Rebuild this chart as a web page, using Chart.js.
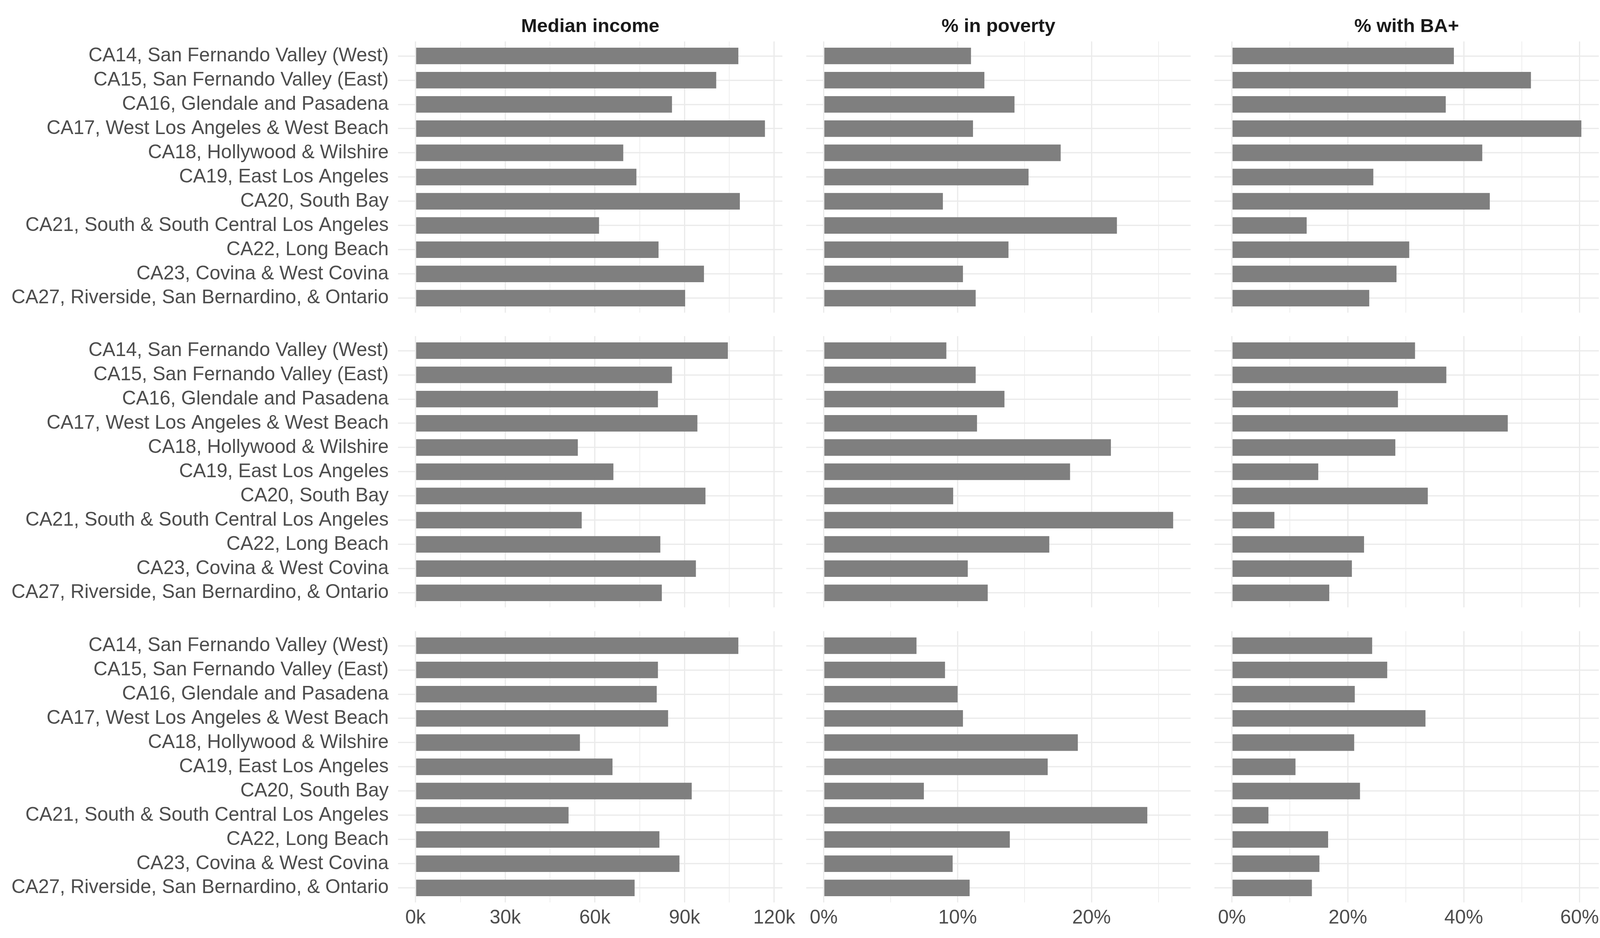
<!DOCTYPE html>
<html>
<head>
<meta charset="utf-8">
<script src="https://cdn.jsdelivr.net/npm/chart.js@4.4.0/dist/chart.umd.min.js"></script>
<style>
html,body{margin:0;padding:0;background:#fff;}
#root{position:relative;width:4200px;height:2400px;overflow:hidden;font-family:"Liberation Sans",Arial,sans-serif;background:#fff;}
.box{position:absolute;}
.title{position:absolute;font-weight:bold;font-size:49px;line-height:49px;color:#1a1a1a;white-space:nowrap;transform:translateX(-50%);}
.strip{position:absolute;font-weight:bold;font-size:49px;line-height:49px;color:#1a1a1a;white-space:nowrap;transform:translate(-50%,-50%) rotate(-90deg);}
</style>
</head>
<body>
<div id="root"></div>
<script>
// ---------- data ----------
const categories = [
  'CA14, San Fernando Valley (West)',
  'CA15, San Fernando Valley (East)',
  'CA16, Glendale and Pasadena',
  'CA17, West Los Angeles & West Beach',
  'CA18, Hollywood & Wilshire',
  'CA19, East Los Angeles',
  'CA20, South Bay',
  'CA21, South & South Central Los Angeles',
  'CA22, Long Beach',
  'CA23, Covina & West Covina',
  'CA27, Riverside, San Bernardino, & Ontario'
];
const years = ['2020', '2000', '1980'];
const measures = ['Median income', '% in poverty', '% with BA+'];

const income2020  = [108000, 100600, 85800, 116900, 69500, 73900, 108500, 61400, 81300, 96500, 90200];
const poverty2020 = [11.0, 12.0, 14.25, 11.15, 17.7, 15.3, 8.9, 21.9, 13.8, 10.4, 11.35];
const ba2020      = [38.3, 51.6, 36.9, 60.3, 43.2, 24.4, 44.5, 12.9, 30.6, 28.4, 23.7];

const income2000  = [104500, 85800, 81100, 94300, 54300, 66200, 97000, 55600, 81900, 93800, 82400];
const poverty2000 = [9.16, 11.35, 13.5, 11.45, 21.45, 18.4, 9.67, 26.1, 16.85, 10.76, 12.25];
const ba2000      = [31.6, 37.0, 28.65, 47.6, 28.2, 14.9, 33.8, 7.33, 22.8, 20.7, 16.8];

const income1980  = [108000, 81100, 80700, 84500, 55000, 65900, 92400, 51200, 81600, 88300, 73300];
const poverty1980 = [6.93, 9.06, 10.0, 10.4, 18.98, 16.73, 7.48, 24.17, 13.9, 9.63, 10.9];
const ba1980      = [24.2, 26.8, 21.2, 33.4, 21.1, 10.97, 22.1, 6.3, 16.6, 15.1, 13.8];

const incomeMajor  = [0, 30000, 60000, 90000, 120000];
const incomeMinor  = [15000, 45000, 75000, 105000];
const povertyMajor = [0, 10, 20];
const povertyMinor = [5, 15, 25];
const baMajor      = [0, 20, 40, 60];
const baMinor      = [10, 30, 50];

// ---------- structure ----------
const grid = [
  [income2020, poverty2020, ba2020],
  [income2000, poverty2000, ba2000],
  [income1980, poverty1980, ba1980]
];
const majors = [incomeMajor, povertyMajor, baMajor];
const minors = [incomeMinor, povertyMinor, baMinor];
const fmt = [v => (v / 1000) + 'k', v => v + '%', v => v + '%'];

// ---------- layout ----------
const FONT = '"Liberation Sans", Arial, sans-serif';
const FSIZE = 49.5;
const panelLeft = [1019, 2064, 3109];
const panelW = 984;
const panelTop = [106, 860, 1615];
const panelH = 694;
const xAxisH = 91;
const RIGHT_EXTRA = 55;
const GRID = '#ebebeb';
const root = document.getElementById('root');

function colRange(c) {
  let mx = 0;
  for (let r = 0; r < 3; r++) mx = Math.max(mx, ...grid[r][c]);
  return [-0.05 * mx, 1.05 * mx];
}

function makeChart(r, c) {
  const firstCol = c === 0, lastRow = r === 2;
  const left = firstCol ? 0 : panelLeft[c];
  const extra = lastRow ? RIGHT_EXTRA : 0;
  const width = panelLeft[c] + panelW - left + extra;
  const top = panelTop[r];
  const height = panelH + (lastRow ? xAxisH : 0);
  const box = document.createElement('div');
  box.className = 'box';
  box.style.left = left + 'px'; box.style.top = top + 'px';
  box.style.width = width + 'px'; box.style.height = height + 'px';
  const cv = document.createElement('canvas');
  cv.width = width; cv.height = height;
  cv.style.width = width + 'px'; cv.style.height = height + 'px';
  box.appendChild(cv);
  root.appendChild(box);

  const [mn, mx] = colRange(c);
  const maj = majors[c];
  const allTicks = maj.concat(minors[c]).sort((a, b) => a - b);
  const values = grid[r][c];

  new Chart(cv.getContext('2d'), {
    type: 'bar',
    data: {
      datasets: [{
        data: values.map((v, i) => ({ x: v, y: i })),
        backgroundColor: '#7f7f7f',
        borderWidth: 0,
        barPercentage: 0.683,
        categoryPercentage: 1.0
      }]
    },
    options: {
      indexAxis: 'y',
      responsive: false,
      animation: false,
      devicePixelRatio: 1,
      layout: { padding: { left: 0, top: 0, bottom: 0, right: extra } },
      plugins: { legend: { display: false }, tooltip: { enabled: false }, title: { display: false } },
      scales: {
        x: {
          type: 'linear', min: mn, max: mx, offset: false,
          border: { display: false },
          grid: {
            color: GRID, drawTicks: false, offset: false,
            lineWidth: ctx => (ctx.tick && maj.includes(ctx.tick.value)) ? 3.2 : 1.7
          },
          ticks: {
            display: lastRow, autoSkip: false, maxRotation: 0, minRotation: 0,
            padding: 11, color: '#4d4d4d', font: { family: FONT, size: FSIZE },
            callback: v => maj.includes(v) ? fmt[c](v) : ''
          },
          afterBuildTicks: s => { s.ticks = allTicks.map(v => ({ value: v })); },
          afterFit: s => { s.height = lastRow ? xAxisH : 0; s.paddingLeft = 0; s.paddingRight = 0; }
        },
        y: {
          type: 'linear', min: -0.6, max: categories.length - 0.4, reverse: true, offset: false,
          border: { display: false },
          grid: { color: GRID, lineWidth: 3.2, drawTicks: false, offset: false },
          ticks: {
            display: firstCol, autoSkip: false, padding: 24,
            color: '#4d4d4d', font: { family: FONT, size: FSIZE },
            callback: v => categories[v] !== undefined ? categories[v] : ''
          },
          afterBuildTicks: s => { s.ticks = categories.map((_, i) => ({ value: i })); },
          afterFit: s => { s.width = firstCol ? panelLeft[0] : 0; s.paddingTop = 0; s.paddingBottom = 0; }
        }
      }
    }
  });
}

for (let r = 0; r < 3; r++) for (let c = 0; c < 3; c++) makeChart(r, c);

// column titles
measures.forEach((m, c) => {
  const d = document.createElement('div');
  d.className = 'title';
  d.textContent = m;
  d.style.left = (panelLeft[c] + panelW / 2) + 'px';
  d.style.top = '41px';
  root.appendChild(d);
});
// row strips
years.forEach((y, r) => {
  const d = document.createElement('div');
  d.className = 'strip';
  d.textContent = y;
  d.style.left = '4135px';
  d.style.top = (panelTop[r] + panelH / 2) + 'px';
  root.appendChild(d);
});
</script>
</body>
</html>
